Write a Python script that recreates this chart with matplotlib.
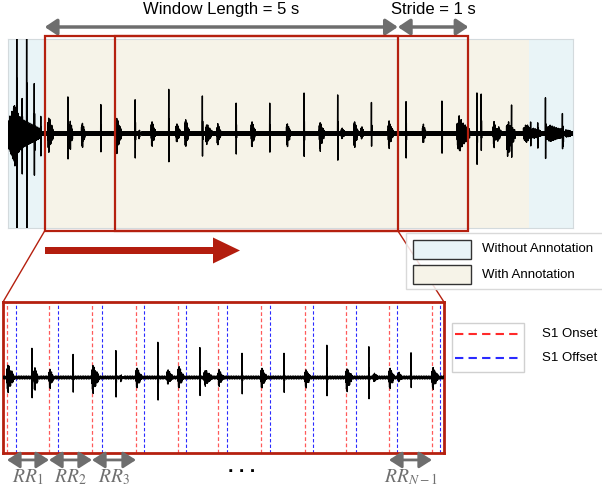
import numpy as np
import matplotlib.pyplot as plt
from matplotlib.patches import Rectangle, FancyArrow, ConnectionPatch

plt.rcParams['font.family'] = ['Liberation Sans', 'DejaVu Sans']
plt.rcParams['mathtext.fontset'] = 'stix'

# ---- values (time in s, amplitude normalised to +-1) ----
rec_len = 8.0
annot_start, annot_end = 0.52, 7.37      # annotated part of the recording
win_start, win_len, stride = 0.52, 5.0, 1.0

# S1 sounds: onset time, upper / lower amplitude, length
s1_onset = [0.08, 0.565, 1.042, 1.529, 2.028, 2.504, 2.958, 3.445, 3.944,
            4.409, 4.896, 5.384, 5.87, 6.36, 6.87, 7.37, 7.85]
s1_up = [0.20, 0.19, 0.17, 0.18, 0.16, 0.19, 0.15, 0.15, 0.13,
         0.14, 0.16, 0.15, 0.15, 0.17, 0.18, 0.12, 0.17]
s1_down = [0.20, 0.19, 0.19, 0.21, 0.14, 0.14, 0.15, 0.15, 0.14,
           0.19, 0.15, 0.16, 0.13, 0.19, 0.17, 0.10, 0.15]
s1_len = [0.07, 0.08, 0.06, 0.08, 0.06, 0.06, 0.07, 0.06, 0.06,
          0.07, 0.06, 0.07, 0.06, 0.18, 0.07, 0.06, 0.04]
# S1 offsets marked inside the zoomed window
s1_offset = [0.667, 1.144, 1.643, 2.119, 2.595, 3.060, 3.547, 4.035,
             4.522, 4.987, 5.475]

# S2 spikes
s2_time = [0.373, 0.849, 1.314, 1.801, 2.277, 2.753, 3.230, 3.706, 4.193,
           4.669, 5.146, 5.637, 6.143, 6.64, 6.70, 7.13, 7.61]
s2_up = [0.48, 0.38, 0.32, 0.35, 0.46, 0.39, 0.34, 0.34, 0.41,
         0.39, 0.34, 0.33, 0.33, 0.41, 0.41, 0.43, 0.39]
s2_down = [0.40, 0.25, 0.21, 0.24, 0.28, 0.22, 0.23, 0.21, 0.23,
           0.27, 0.14, 0.24, 0.20, 0.31, 0.16, 0.29, 0.27]

# small murmur / noise bursts
blob_start = [0.00, 0.87, 1.85, 2.38, 2.80, 4.72, 5.00, 6.92, 7.06, 7.30, 7.62]
blob_len = [0.46, 0.06, 0.04, 0.06, 0.09, 0.05, 0.04, 0.06, 0.12, 0.25, 0.35]
blob_up = [0.24, 0.19, 0.07, 0.12, 0.10, 0.06, 0.09, 0.10, 0.12, 0.08, 0.07]
blob_down = [0.26, 0.21, 0.07, 0.09, 0.11, 0.05, 0.05, 0.10, 0.25, 0.08, 0.07]

# motion artefacts at the start and extra spikes
art_time = [0.123, 0.265, 0.20, 0.463, 7.85, 7.40, 7.50]
art_up = [1.6, 1.6, 0.31, 0.17, 0.17, 0.12, 0.10]
art_down = [1.6, 1.6, 0.28, 0.22, 0.14, 0.10, 0.12]

wiggle = [0.016, -0.011, 0.019, -0.016, 0.007, -0.019, 0.013, -0.008,
          0.011, -0.017, 0.018, -0.012, 0.006, -0.014]
osc = [1.0, -0.5, 0.3, -0.9, 0.6, -0.3, 0.8, -1.0, 0.4, -0.6, 0.2, -0.4, 0.7, -0.2]

# ---- build the trace from the events ----
fs = 500
t = np.arange(0, rec_len, 1 / fs)
sig = np.resize(np.array(wiggle), t.size)


def burst(t0, dur, up, down):
    i0, i1 = int(t0 * fs), min(int((t0 + dur) * fs), t.size)
    n = i1 - i0
    env = np.interp(np.linspace(0, 1, n), [0, 0.15, 0.45, 1], [0.5, 1, 0.55, 0.15])
    v = np.resize(np.array(osc), n) * env
    sig[i0:i1] += np.where(v > 0, v * up, v * down)


def spike(t0, up, down):
    i = int(round(t0 * fs))
    sig[i:i + 4] += np.array([up, -down, 0.3 * up, -0.25 * down])


for a, d, u, w in zip(s1_onset, s1_len, s1_up, s1_down):
    burst(a, d, u, w)
for a, d, u, w in zip(blob_start, blob_len, blob_up, blob_down):
    burst(a, d, u, w)
for a, u, w in zip(s2_time, s2_up, s2_down):
    spike(a, u, w)
for a, u, w in zip(art_time, art_up, art_down):
    spike(a, u, w)

# ---- figure ----
W, H = 602, 490
fig = plt.figure(figsize=(W / 100, H / 100), dpi=100)
red = '#b5200f'
blue_bg = '#e9f4f7'
beige_bg = '#f6f3e8'
grey = '#6e6e6e'


def rect(x0, y0, x1, y1):
    return [x0 / W, 1 - y1 / H, (x1 - x0) / W, (y1 - y0) / H]


# top: whole recording
ax_top = fig.add_axes(rect(8, 39, 573, 228))
ax_top.axvspan(0, annot_start, color=blue_bg, lw=0)
ax_top.axvspan(annot_start, annot_end, color=beige_bg, lw=0)
ax_top.axvspan(annot_end, rec_len, color=blue_bg, lw=0)
ax_top.plot(t, sig, color='black', lw=1.0, zorder=3)
ax_top.set_xlim(0, rec_len)
ax_top.set_ylim(-1, 1)
ax_top.set_xticks([])
ax_top.set_yticks([])
for s in ax_top.spines.values():
    s.set_color('#d3dadd')
    s.set_linewidth(0.8)

for k in range(2):
    ax_top.add_patch(Rectangle((win_start + k * stride, -1.03), win_len, 2.06,
                               fill=False, ec=red, lw=1.6, clip_on=False, zorder=4))

arr = dict(arrowstyle='<|-|>,head_length=0.6,head_width=0.4', color=grey, lw=2.5,
           mutation_scale=12, shrinkA=0, shrinkB=0)
ax_top.annotate('', xy=(win_start, 1.127), xytext=(win_start + win_len, 1.127),
                arrowprops=arr, annotation_clip=False)
ax_top.annotate('', xy=(win_start + win_len, 1.127), xytext=(win_start + win_len + stride, 1.127),
                arrowprops=arr, annotation_clip=False)
ax_top.text(win_start + win_len / 2, 1.265, 'Window Length = 5 s', ha='center',
            va='baseline', fontsize=12)
ax_top.text(win_start + win_len + stride / 2, 1.265, 'Stride = 1 s', ha='center',
            va='baseline', fontsize=12)

# bottom: zoom on the first window
ax_bot = fig.add_axes(rect(3, 302, 444, 453))
for x in s1_onset:
    if win_start < x < win_start + win_len:
        ax_bot.axvline(x, color='#ff5a5a', lw=0.9, ls=(0, (3, 2)), zorder=1)
for x in s1_offset:
    ax_bot.axvline(x, color='#2a2aff', lw=0.8, ls=(0, (3, 2)), zorder=1)
ax_bot.plot(t, sig, color='black', lw=0.9, zorder=3)
ax_bot.set_xlim(win_start, win_start + win_len)
ax_bot.set_ylim(-1, 1)
ax_bot.set_xticks([])
ax_bot.set_yticks([])
for s in ax_bot.spines.values():
    s.set_color(red)
    s.set_linewidth(2)

on_win = [x for x in s1_onset if win_start < x < win_start + win_len]
rr = [(0, r'$RR_1$'), (1, r'$RR_2$'), (2, r'$RR_3$'), (len(on_win) - 2, r'$RR_{N-1}$')]
arr2 = dict(arrowstyle='<|-|>,head_length=0.7,head_width=0.45', color=grey, lw=2,
            mutation_scale=11, shrinkA=0, shrinkB=0)
tr = ax_bot.get_xaxis_transform()
for i, lab in rr:
    ax_bot.annotate('', xy=(on_win[i], -0.046), xytext=(on_win[i + 1], -0.046),
                    xycoords=tr, textcoords=tr, arrowprops=arr2, annotation_clip=False)
    ax_bot.text((on_win[i] + on_win[i + 1]) / 2, -0.192, lab, transform=tr,
                ha='center', va='baseline', fontsize=14, color='#707070')

for xa, xb in [((win_start, -1.03), (0, 1)), ((win_start + win_len, -1.03), (1, 1))]:
    fig.add_artist(ConnectionPatch(xyA=xa, coordsA=ax_top.transData, xyB=xb,
                                   coordsB=ax_bot.transAxes, color=red, lw=1.0))

# overlay in pixel units for arrow and legends
ov = fig.add_axes([0, 0, 1, 1], zorder=5)
ov.set_xlim(0, W)
ov.set_ylim(H, 0)
ov.axis('off')
ov.patch.set_alpha(0)

ov.add_patch(FancyArrow(45, 250.5, 195, 0, width=7, head_width=26, head_length=27,
                        length_includes_head=True, fc='#b31d0e', ec='none'))

ov.add_patch(Rectangle((406, 233), 300, 56, fc=(1, 1, 1, 0.85), ec='#d9d9d9', lw=1,
                       clip_on=False))
ov.add_patch(Rectangle((413, 239.5), 58, 19, fc=blue_bg, ec='#333333', lw=1))
ov.add_patch(Rectangle((413, 265), 58, 19, fc=beige_bg, ec='#333333', lw=1))
ov.text(482, 249, 'Without Annotation', va='center', fontsize=9.5)
ov.text(482, 274.5, 'With Annotation', va='center', fontsize=9.5)

ov.add_patch(Rectangle((452, 323), 72, 49, fc='white', ec='#d0d0d0', lw=1))
ov.plot([455, 521], [334, 334], color='#ff2a2a', lw=1.5, ls=(0, (4, 2.5)))
ov.plot([455, 521], [358, 358], color='#2a2aff', lw=1.5, ls=(0, (4, 2.5)))
ov.text(542, 334, 'S1 Onset', va='center', fontsize=9.5)
ov.text(542, 358, 'S1 Offset', va='center', fontsize=9.5)

ov.text(242, 472, '. . .', ha='center', va='baseline', fontsize=14, fontweight='bold')

fig.savefig('out.png', dpi=100)
